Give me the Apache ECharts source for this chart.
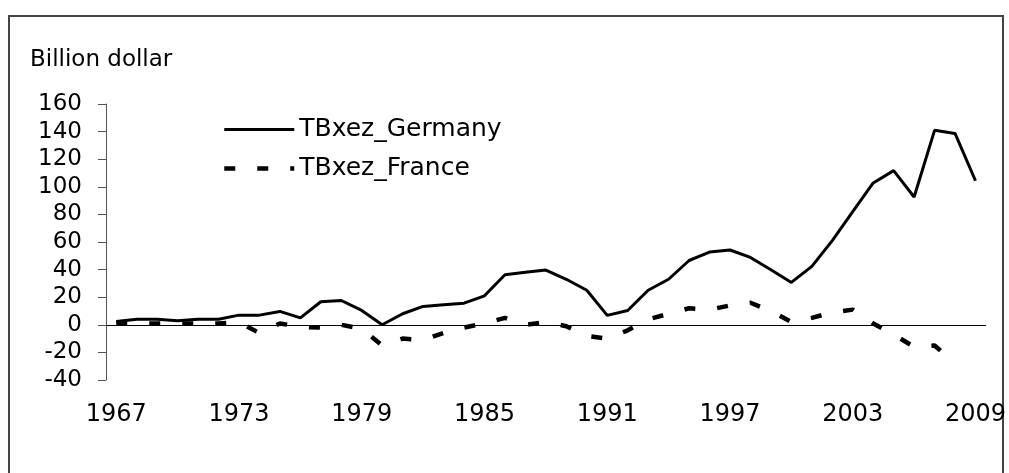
<!DOCTYPE html>
<html>
<head>
<meta charset="utf-8">
<script src="https://cdn.jsdelivr.net/npm/echarts@6/dist/echarts.min.js"></script>
<style>
  html, body { margin: 0; padding: 0; background: #fff; }
  #chart { width: 1009px; height: 473px; }
</style>
</head>
<body>
<div id="chart"></div>
<script>
// data (billion dollar)
const years = [
  '1967', '1968', '1969', '1970', '1971', '1972', '1973', '1974', '1975', '1976',
  '1977', '1978', '1979', '1980', '1981', '1982', '1983', '1984', '1985', '1986',
  '1987', '1988', '1989', '1990', '1991', '1992', '1993', '1994', '1995', '1996',
  '1997', '1998', '1999', '2000', '2001', '2002', '2003', '2004', '2005', '2006',
  '2007', '2008', '2009'
]
const germany = [
  2.4, 4, 4, 3, 4, 4, 7, 7, 9.7, 5,
  16.7, 17.6, 10.4, 0, 8, 13.3, 14.5, 15.7, 21, 36.3,
  38, 39.7, 33, 25, 6.8, 10.4, 25, 33, 46.6, 52.7,
  54.2, 48.8, 39.9, 30.7, 42.3, 61, 82, 102.8, 111.7, 92.6,
  140.9, 138.7, 104.4
]
const france = [
  1, 1, 1, 1, 1, 1, 2, -6, 1, -1.5,
  -2, 0, -3, -15, -10, -11, -6, -2, 1, 5,
  0, 2, -1, -8, -10, -4, 4, 8, 12, 11,
  14, 16, 10, 2, 5, 9, 11, 1, -7, -16,
  -15, -28, null
]
const seriesNames = ['TBxez_Germany', 'TBxez_France']
const unitLabel = 'Billion dollar'

const font = 'DejaVu Sans'

const chart = echarts.init(document.getElementById('chart'))

chart.setOption({
  animation: false,
  backgroundColor: '#fff',
  title: {
    text: unitLabel,
    left: 30,
    top: 49,
    padding: 0,
    textStyle: { fontFamily: font, fontSize: 23, fontWeight: 'normal', color: '#000' }
  },
  graphic: [{
    type: 'rect',
    shape: { x: 9, y: 16, width: 994, height: 470 },
    style: { fill: 'none', stroke: '#444', lineWidth: 2 }
  }],
  legend: {
    orient: 'vertical',
    left: 222,
    top: 117,
    padding: 0,
    itemWidth: 70,
    itemHeight: 14,
    itemGap: 14,
    itemStyle: { opacity: 0 },
    lineStyle: { width: 'inherit' },
    textStyle: { fontFamily: font, fontSize: 25, color: '#000' },
    data: seriesNames
  },
  grid: { left: 106, right: 21, top: 104, bottom: 93 },
  xAxis: [
    {
      // axis line with ticks below zero
      type: 'category',
      data: years,
      position: 'bottom',
      axisLine: { onZero: true, lineStyle: { color: '#000', width: 1 } },
      axisTick: { interval: 1, length: 7, lineStyle: { color: '#666' } },
      axisLabel: { show: false },
      splitLine: { show: false }
    },
    {
      // tick halves above zero
      type: 'category',
      data: years,
      position: 'bottom',
      axisLine: { show: false, onZero: true },
      axisTick: { interval: 1, inside: true, length: 7, lineStyle: { color: '#666' } },
      axisLabel: { show: false },
      splitLine: { show: false }
    },
    {
      // year labels under the plot
      type: 'category',
      data: years,
      position: 'bottom',
      axisLine: { show: false, onZero: false },
      axisTick: { show: false },
      axisLabel: { interval: 5, margin: 23, fontFamily: font, fontSize: 24, color: '#000' },
      splitLine: { show: false }
    }
  ],
  yAxis: {
    type: 'value',
    min: -40,
    max: 160,
    interval: 20,
    axisLine: { show: true, onZero: false, lineStyle: { color: '#555' } },
    axisTick: { show: true, length: 8, lineStyle: { color: '#555' } },
    axisLabel: { margin: 24, fontFamily: font, fontSize: 23, color: '#000' },
    splitLine: { show: false }
  },
  series: [
    {
      name: seriesNames[0],
      type: 'line',
      data: germany,
      symbol: 'none',
      lineStyle: { color: '#000', width: 3 },
      itemStyle: { color: '#000' }
    },
    {
      name: seriesNames[1],
      type: 'line',
      data: france,
      symbol: 'none',
      lineStyle: { color: '#000', width: 4.5, type: [11, 22], cap: 'butt' },
      itemStyle: { color: '#000' }
    }
  ]
})
</script>
</body>
</html>
